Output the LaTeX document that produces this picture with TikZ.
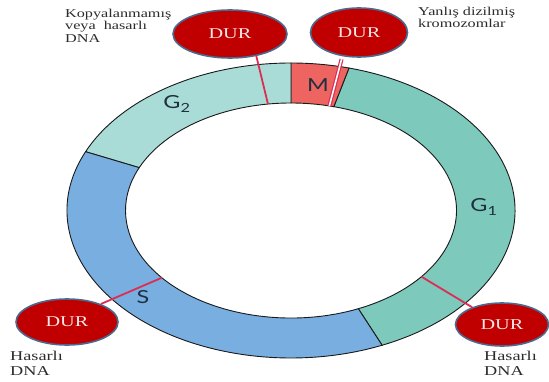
\documentclass[tikz,border=0pt]{standalone}
\usepackage{fontspec}
\setmainfont[FakeStretch=1.35]{Liberation Serif}
\newfontfamily\phasefont[FakeStretch=1.3]{Lato}
\usepackage{xcolor}
\definecolor{gonecol}{HTML}{7DC9BB}
\definecolor{gtwocol}{HTML}{A9DCD6}
\definecolor{mcol}{HTML}{EE6461}
\definecolor{scol}{HTML}{78AEE0}
\definecolor{ringline}{HTML}{1A1A1A}
\definecolor{durfill}{HTML}{C00000}
\definecolor{durborder}{HTML}{4C6A8E}
\definecolor{durtext}{HTML}{F5E6E6}
\definecolor{chkred}{HTML}{DC2E55}
\definecolor{notegray}{HTML}{2B2B2B}
\definecolor{phasetext}{HTML}{1F2F3F}
\usepackage{tikz}
\usetikzlibrary{shapes.geometric, calc}

\begin{document}
\begin{tikzpicture}[x=1pt, y=1pt,
    ring/.style={draw=ringline, line width=0.9pt},
    stopnode/.style={ellipse, fill=durfill, draw=durborder, line width=1.6pt,
                     inner sep=0pt, text=durtext, font=\fontsize{15}{15}\selectfont},
    chk/.style={draw=chkred, line width=1.8pt},
    note/.style={align=left, inner sep=0pt, text=notegray, anchor=base west},
    phase/.style={font=\phasefont\fontsize{18}{18}\selectfont, text=phasetext}]
  \useasboundingbox (0,0) rectangle (549,381);
  \coordinate (C) at (291,170.5);

  % cycle ring
  \foreach \from/\to/\col in {-66/75/gonecol, 75/90/mcol, 90/156.5/gtwocol, 156.5/294/scol} {
    \filldraw[ring, fill=\col] ($(C)+(\from:224pt and 147.5pt)$)
      arc[start angle=\from, end angle=\to, x radius=224pt, y radius=147.5pt]
      -- ($(C)+(\to:165.5pt and 107.5pt)$)
      arc[start angle=\to, end angle=\from, x radius=165.5pt, y radius=107.5pt] -- cycle;
  }

  \node[phase] (gonelab) at (484,174) {G\textsubscript{1}};
  \node[phase] (gtwolab) at (177,277) {G\textsubscript{2}};
  \node[phase] (mlab) at (318,295.5) {M};
  \node[phase] (slab) at (143,83.5) {S};

  % checkpoints
  \node[stopnode, minimum width=114pt, minimum height=48pt] (durgtwo) at (230,347) {DUR};
  \node[stopnode, minimum width=97pt, minimum height=49pt] (durm) at (359,348.5) {DUR};
  \node[stopnode, minimum width=102pt, minimum height=46pt] (durs) at (67,59) {DUR};
  \node[stopnode, minimum width=93pt, minimum height=43pt] (durgone) at (502,56.5) {DUR};

  \coordinate (gtwostop) at ($(C)+(98:165.5pt and 107.5pt)$);
  \coordinate (mstop) at ($(C)+(76.6:165.5pt and 107.5pt)$);
  \coordinate (sstop) at ($(C)+(218.7:165.5pt and 107.5pt)$);
  \coordinate (gonestop) at ($(C)+(-38:165.5pt and 107.5pt)$);

  \draw[chk] (durgtwo.-40) -- (gtwostop);
  \draw[chk, line width=1.2pt, double=white, double distance=1.6pt, shorten <=3pt] (durm.-125) -- (mstop);
  \draw[chk] (durs.28) -- (sstop);
  \draw[chk] (durgone.150) -- (gonestop);

  % notes (anchored at the last line)
  \node[note, font=\fontsize{12}{12.7}\selectfont] (kopya) at (65,338.3) {Kopyalanmamış\\veya\ \ hasarlı\\DNA};
  \node[note, font=\fontsize{12}{10.7}\selectfont] (yanlis) at (418,353.7) {Yanlış dizilmiş\\kromozomlar};
  \node[note, font=\fontsize{13.5}{15}\selectfont] (hasarsol) at (10,6) {Hasarlı\\DNA};
  \node[note, font=\fontsize{13.5}{15}\selectfont] (hasarsag) at (484,6) {Hasarlı\\DNA};
\end{tikzpicture}
\end{document}
